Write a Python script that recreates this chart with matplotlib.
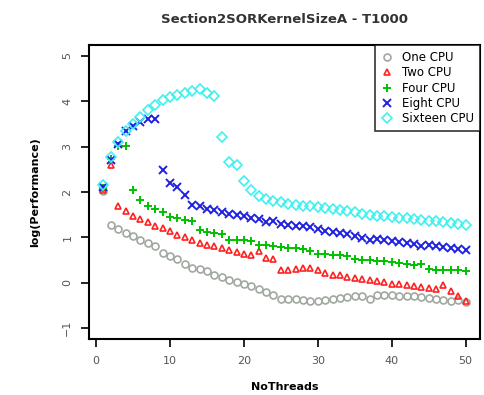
import matplotlib
matplotlib.use("Agg")
import matplotlib.pyplot as plt

threads = list(range(1, 51))

one_cpu = [2.02, 1.28, 1.18, 1.10, 1.04, 0.95, 0.87, 0.80, 0.65, 0.58,
           0.52, 0.42, 0.32, 0.30, 0.25, 0.18, 0.12, 0.06, 0.02, -0.04,
           -0.08, -0.14, -0.20, -0.28, -0.36, -0.36, -0.37, -0.38, -0.40, -0.40,
           -0.38, -0.36, -0.34, -0.32, -0.30, -0.30, -0.35, -0.28, -0.27, -0.28,
           -0.30, -0.30, -0.30, -0.32, -0.33, -0.36, -0.38, -0.40, -0.38, -0.42]
two_cpu = [2.04, 2.60, 1.70, 1.58, 1.48, 1.40, 1.33, 1.25, 1.20, 1.14,
           1.05, 1.00, 0.94, 0.88, 0.84, 0.80, 0.76, 0.72, 0.68, 0.64,
           0.62, 0.70, 0.55, 0.52, 0.28, 0.28, 0.30, 0.32, 0.33, 0.28,
           0.22, 0.18, 0.16, 0.12, 0.10, 0.08, 0.06, 0.04, 0.02, -0.02,
           -0.04, -0.06, -0.08, -0.10, -0.12, -0.14, -0.06, -0.18, -0.30, -0.40]
four_cpu = [2.08, 2.72, 3.02, 3.02, 2.04, 1.82, 1.70, 1.62, 1.55, 1.45,
            1.42, 1.38, 1.35, 1.16, 1.12, 1.10, 1.08, 0.95, 0.94, 0.93,
            0.92, 0.82, 0.82, 0.80, 0.78, 0.77, 0.76, 0.74, 0.70, 0.64,
            0.63, 0.62, 0.60, 0.58, 0.52, 0.51, 0.50, 0.48, 0.48, 0.46,
            0.44, 0.42, 0.40, 0.42, 0.30, 0.28, 0.28, 0.27, 0.27, 0.26]
eight_cpu = [2.10, 2.70, 3.05, 3.35, 3.45, 3.55, 3.60, 3.60, 2.48, 2.20,
             2.10, 1.93, 1.72, 1.68, 1.62, 1.60, 1.56, 1.52, 1.49, 1.46,
             1.42, 1.40, 1.34, 1.35, 1.30, 1.28, 1.26, 1.25, 1.22, 1.18,
             1.15, 1.12, 1.10, 1.08, 1.04, 0.98, 0.95, 0.97, 0.93, 0.92,
             0.90, 0.88, 0.86, 0.80, 0.84, 0.80, 0.78, 0.76, 0.74, 0.73]
sixteen_cpu = [2.15, 2.78, 3.10, 3.35, 3.50, 3.65, 3.80, 3.92, 4.02, 4.10,
               4.13, 4.18, 4.22, 4.28, 4.18, 4.12, 3.22, 2.65, 2.60, 2.25,
               2.05, 1.92, 1.85, 1.80, 1.77, 1.74, 1.72, 1.70, 1.68, 1.66,
               1.64, 1.62, 1.60, 1.58, 1.55, 1.52, 1.50, 1.48, 1.47, 1.45,
               1.43, 1.42, 1.40, 1.38, 1.36, 1.35, 1.33, 1.32, 1.30, 1.28]

series = [
    ("One CPU", one_cpu, "o", "#a0a8a0"),
    ("Two CPU", two_cpu, "^", "#ff2020"),
    ("Four CPU", four_cpu, "+", "#00c000"),
    ("Eight CPU", eight_cpu, "x", "#2020e0"),
    ("Sixteen CPU", sixteen_cpu, "D", "#40f0f0"),
]

fig = plt.figure(figsize=(4.85, 3.95), dpi=100)
ax = fig.add_axes([0.1835, 0.142, 0.8065, 0.744])

for name, vals, m, c in series:
    if m in ("+", "x"):
        ax.plot(threads, vals, linestyle="none", marker=m, color=c,
                markersize=6, markeredgewidth=1.4, label=name)
    else:
        ax.plot(threads, vals, linestyle="none", marker=m, color=c,
                markerfacecolor="none", markersize=5, markeredgewidth=1.2,
                label=name)

ax.set_xlim(-0.96, 51.96)
ax.set_ylim(-1.24, 5.24)
ax.set_xticks([0, 10, 20, 30, 40, 50])
ax.set_yticks([-1, 0, 1, 2, 3, 4, 5])
for s in ax.spines.values():
    s.set_linewidth(1.5)
ax.tick_params(direction="out", length=6, width=1.2, labelsize=8,
               labelcolor="#555555", pad=6)
plt.setp(ax.get_yticklabels(), rotation=90, va="center")

ax.set_xlabel("NoThreads", fontsize=8, fontweight="bold", labelpad=12)
ax.set_ylabel("log(Performance)", fontsize=8, fontweight="bold", labelpad=16)
ax.set_title("Section2SORKernelSizeA - T1000", fontsize=9.5,
             fontweight="bold", color="#333333", pad=16)

leg = ax.legend(loc="upper right", fontsize=8.5, frameon=True, fancybox=False,
                edgecolor="black", borderaxespad=0, handletextpad=0.8,
                labelspacing=0.2, handlelength=1.0, borderpad=0.5)
leg.get_frame().set_linewidth(1.2)

fig.savefig("out.png", dpi=100)
